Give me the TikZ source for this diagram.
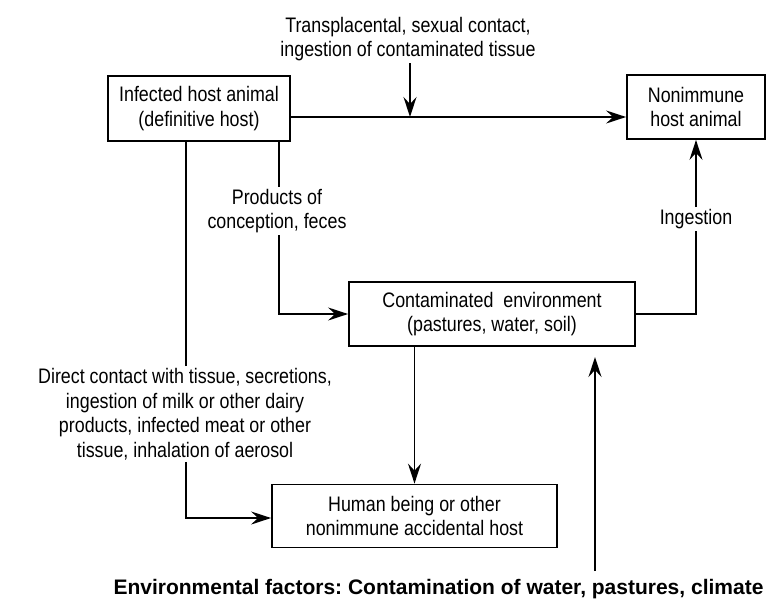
\documentclass[tikz,border=0pt]{standalone}
\usepackage{fontspec}
\setmainfont[FakeStretch=0.85]{Liberation Sans}
\newfontfamily\widefont{Liberation Sans}
\usetikzlibrary{arrows.meta}
\begin{document}
\frenchspacing
\begin{tikzpicture}[x=1pt,y=-1pt,
  every node/.style={font=\fontsize{21}{24.5}\selectfont, align=center},
  box/.style={draw, line width=1.8pt, inner sep=0pt},
  lbl/.style={inner sep=2pt},
  con/.style={line width=1.8pt},
  arr/.style={con, -{Stealth[length=20pt,width=13pt,inset=7pt]}}]
\useasboundingbox (0,0) rectangle (766,600);
\node[box, minimum width=182, minimum height=65] (b1) at (199,108.5) {Infected host animal\\(definitive host)};
\node[box, minimum width=138, minimum height=64] (b2) at (696,107) {Nonimmune\\host animal};
\node[box, minimum width=286, minimum height=64] (b3) at (492,314) {Contaminated\ \ environment\\(pastures, water, soil)};
\node[box, minimum width=285, minimum height=63] (b4) at (414.5,516) {Human being or other\\nonimmune accidental host};
\node[lbl] (trans) at (408,39) {Transplacental, sexual contact,\\ingestion of contaminated tissue};
\node[lbl] (prod) at (277,211) {Products of\\conception, feces};
\node[lbl] (ing) at (696,219) {Ingestion};
\node[lbl] (direct) at (185,414) {Direct contact with tissue, secretions,\\ingestion of milk or other dairy\\products, infected meat or other\\tissue, inhalation of aerosol};
\node[inner sep=0pt, font=\widefont\bfseries\fontsize{21}{24.5}\selectfont] (env) at (438.5,589) {Environmental factors: Contamination of water, pastures, climate};
\coordinate (envtip) at (595,357);
\coordinate (hmid) at (410,117);
% arrows
\draw[arr] ([yshift=-8.5pt]b1.east) -- ([yshift=-8.5pt]b1.east -| b2.west);
\draw[arr] (trans.south -| hmid) -- (hmid);
\draw[con] (prod.north -| 279,0) -- (b1.south -| 279,0);
\draw[arr] (prod.south -| 279,0) |- (b3.west);
\draw[con] (b3.east) -| (ing.south);
\draw[arr] (ing.north) -- (b2.south);
\draw[con] (direct.north -| 186,0) -- (b1.south -| 186,0);
\draw[arr] (direct.south -| 186,0) |- ([yshift=-2pt]b4.west);
\draw[arr] (b3.south -| b4.north) -- (b4.north);
\draw[arr] (env.north -| envtip) ++(0,-8) -- (envtip);
\end{tikzpicture}
\end{document}
